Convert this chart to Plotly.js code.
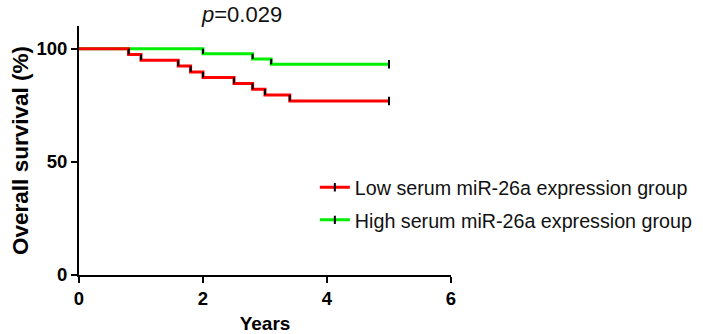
<!DOCTYPE html>
<html>
<head>
<meta charset="utf-8">
<script src="https://cdn.plot.ly/plotly-3.0.1.min.js"></script>
<style>html,body{margin:0;padding:0;background:#fff;}#chart{width:703px;height:334px;}</style>
</head>
<body>
<div id="chart"></div>
<script>
// Kaplan-Meier data
const lowName = "Low serum miR-26a expression group";
const highName = "High serum miR-26a expression group";
const lowTimes = [0, 0.8, 1.0, 1.6, 1.8, 2.0, 2.5, 2.8, 3.0, 3.4, 5.0];
const lowSurv  = [100, 97.4, 94.9, 92.3, 89.7, 87.2, 84.6, 82.1, 79.5, 76.9, 76.9];
const highTimes = [0, 2.0, 2.8, 3.1, 5.0];
const highSurv  = [100, 97.7, 95.4, 93.1, 93.1];
const xTicks = [0, 2, 4, 6];
const yTicks = [0, 50, 100];
const pText = "<i>p</i>=0.029";

const FONT = "Liberation Sans, Arial, sans-serif";
const RED = "#ff0000", GREEN = "#00ee00";

function dropSegments(t, s) {
  const x = [], y = [];
  for (let i = 1; i < t.length; i++) {
    if (s[i] < s[i - 1]) { x.push(t[i], t[i], null); y.push(s[i - 1], s[i], null); }
  }
  return {x, y};
}

function groupTraces(t, s, color, name, group) {
  const seg = dropSegments(t, s);
  const n = t.length - 1;
  return {
    line: {x: t, y: s, type: "scatter", mode: "lines", line: {color: color, width: 3, shape: "hv"},
           showlegend: false, hoverinfo: "skip"},
    ticks: {x: seg.x, y: seg.y, type: "scatter", mode: "lines", line: {color: "#000", width: 2},
            showlegend: false, hoverinfo: "skip"},
    end: {x: [t[n]], y: [s[n]], type: "scatter", mode: "lines+markers", name: name, legendgroup: group,
          line: {color: color, width: 3},
          marker: {symbol: "line-ns", size: 6, color: "#000", line: {color: "#000", width: 2}}}
  };
}

const low = groupTraces(lowTimes, lowSurv, RED, lowName, "low");
const high = groupTraces(highTimes, highSurv, GREEN, highName, "high");
// green drawn below red; legend lists Low first
const data = [high.line, high.ticks, low.line, low.ticks, low.end, high.end];

const layout = {
  width: 703, height: 334,
  margin: {l: 79, r: 252, t: 26, b: 59, pad: 0, autoexpand: false},
  paper_bgcolor: "#fff", plot_bgcolor: "#fff",
  font: {family: FONT, color: "#000"},
  showlegend: true,
  legend: {
    x: 0.634, y: 0.43, xanchor: "left", yanchor: "top",
    font: {family: FONT, size: 19.7, color: "#111"},
    traceorder: "grouped", tracegroupgap: 4, bgcolor: "rgba(0,0,0,0)"
  },
  xaxis: {
    range: [0, 6], tickvals: xTicks, ticktext: xTicks.map(String),
    showline: true, linecolor: "#000", linewidth: 2, mirror: false,
    ticks: "outside", ticklen: 6, tickwidth: 2, tickcolor: "#000",
    showgrid: false, zeroline: false,
    tickfont: {family: FONT, size: 18.5, color: "#000", weight: "bold"},
    title: {text: "<b>Years</b>", font: {family: FONT, size: 19, color: "#000"}, standoff: 8}
  },
  yaxis: {
    range: [0, 110], tickvals: yTicks, ticktext: yTicks.map(String),
    showline: true, linecolor: "#000", linewidth: 2,
    ticks: "outside", ticklen: 6, tickwidth: 2, tickcolor: "#000",
    showgrid: false, zeroline: false,
    tickfont: {family: FONT, size: 18.5, color: "#000", weight: "bold"},
    title: {text: "<b>Overall survival (%)</b>", font: {family: FONT, size: 22.5, color: "#000"}, standoff: 2}
  },
  annotations: [{
    text: pText, xref: "paper", yref: "paper", x: 0.436, y: 1, yshift: 12,
    xanchor: "center", yanchor: "middle", showarrow: false,
    font: {family: FONT, size: 22, color: "#111"}
  }]
};

Plotly.newPlot("chart", data, layout, {displayModeBar: false, staticPlot: true});
</script>
</body>
</html>
